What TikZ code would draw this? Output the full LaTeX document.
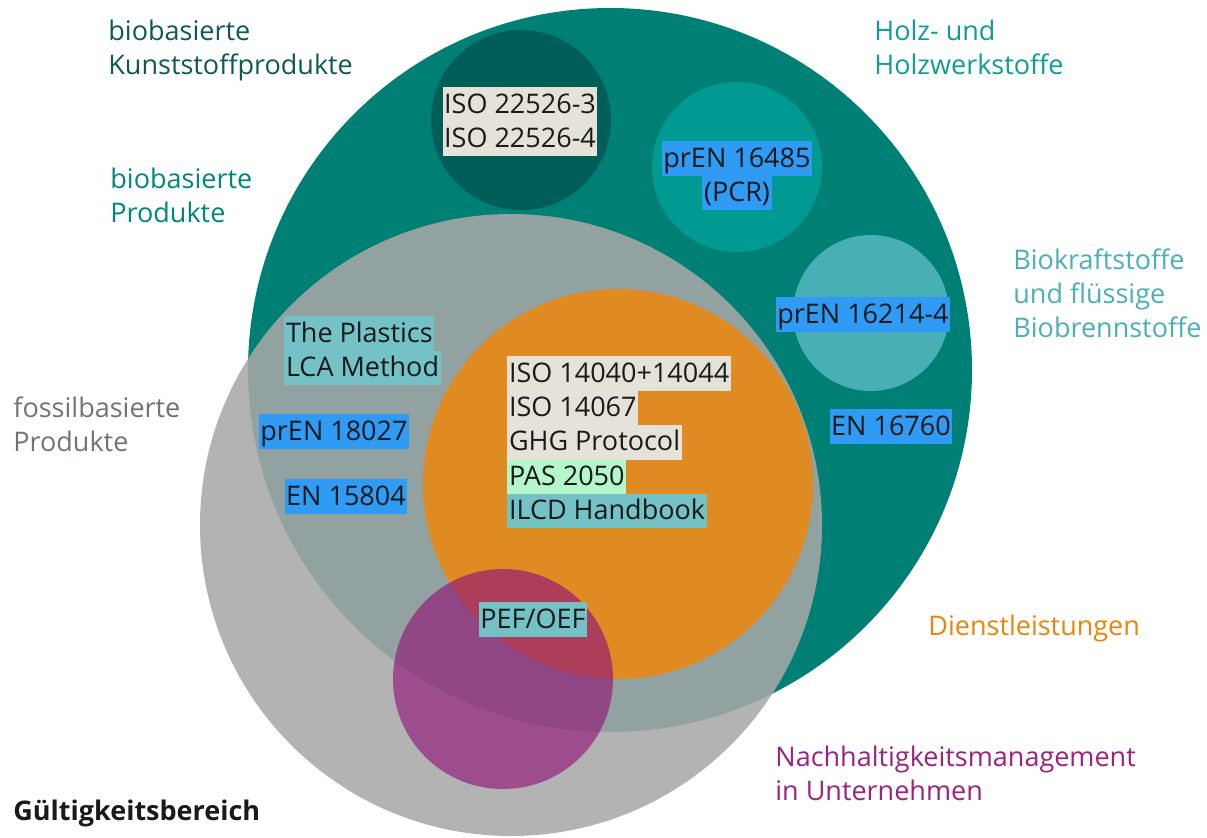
\documentclass[tikz,border=0pt]{standalone}
\usepackage{fontspec}
\setmainfont{Open Sans}
\usepackage{xcolor}
\usetikzlibrary{positioning}

\definecolor{tealbig}{HTML}{007F74}
\definecolor{tealdark}{HTML}{005E58}
\definecolor{tealmid}{HTML}{009A93}
\definecolor{teallight}{HTML}{47AFB5}
\definecolor{fossilgray}{RGB}{168,168,168}
\definecolor{orangeset}{HTML}{E08A22}
\definecolor{purpleset}{RGB}{145,22,120}
\definecolor{boxbeige}{HTML}{E5E3D9}
\definecolor{boxblue}{HTML}{2F9BF5}
\definecolor{boxteal}{HTML}{74C1C6}
\definecolor{boxgreen}{HTML}{B5F7CD}
\definecolor{textdark}{HTML}{1A1A1A}
\definecolor{kunsttext}{HTML}{0E5A52}
\definecolor{holztext}{HTML}{119C93}
\definecolor{biotext}{HTML}{00877B}
\definecolor{krafttext}{HTML}{4AAFB7}
\definecolor{fossiltext}{HTML}{6E7670}
\definecolor{diensttext}{HTML}{E8850F}
\definecolor{mgmttext}{HTML}{9A2380}

\begin{document}
\begin{tikzpicture}[x=0.5pt, y=-0.5pt]
% Define styles
\tikzstyle{set}=[circle, inner sep=0pt]
\tikzstyle{area}=[font=\fontsize{13.5}{17}\selectfont, align=left, anchor=north west, inner sep=0pt]
\tikzstyle{std}=[font=\fontsize{13.5}{17}\selectfont, text=textdark, inner xsep=0.8pt, inner ysep=0pt, text height=12.8pt, text depth=4.4pt]

\useasboundingbox (0,0) rectangle (1207,837);

% Scope circles
\node[set, fill=tealbig, minimum size=362pt] (bio) at (610,370) {};
\node[set, fill=tealdark, minimum size=90pt] (kunst) at (521,120) {};
\node[set, fill=tealmid, minimum size=85pt] (holz) at (737,167) {};
\node[set, fill=teallight, minimum size=78pt] (kraft) at (871,313) {};
\node[set, fill=fossilgray, fill opacity=0.87, minimum size=311pt] (fossil) at (511,525) {};
\node[set, fill=orangeset, minimum size=195pt] (dienst) at (618,484) {};
\node[set, fill=purpleset, fill opacity=0.65, minimum size=110pt] (mgmt) at (503,679) {};

% Scope labels
\node[area, text=kunsttext] (lkunst) at (108,20) {biobasierte\\Kunststoffprodukte};
\node[area, text=holztext] (lholz) at (874,20) {Holz- und\\Holzwerkstoffe};
\node[area, text=biotext] (lbio) at (110,168) {biobasierte\\Produkte};
\node[area, text=krafttext] (lkraft) at (1013,248) {Biokraftstoffe\\und flüssige\\Biobrennstoffe};
\node[area, text=fossiltext] (lfossil) at (13,396) {fossilbasierte\\Produkte};
\node[area, text=diensttext] (ldienst) at (928,615) {Dienstleistungen};
\node[area, text=mgmttext] (lmgmt) at (775,746) {Nachhaltigkeitsmanagement\\in Unternehmen};
\node[area, text=textdark, font=\fontsize{13.5}{17}\selectfont\bfseries] (lscope) at (13,800) {Gültigkeitsbereich};

% Standards in the bio-based scopes
\node[std, fill=boxbeige, anchor=north] (iso3) at (520,87) {ISO 22526-3};
\node[std, fill=boxbeige, below=-0.4pt of iso3] (iso4) {ISO 22526-4};
\node[std, fill=boxblue, anchor=north] (pren16485) at (737,141) {prEN 16485};
\node[std, fill=boxblue, below=-0.4pt of pren16485] (pcr) {(PCR)};
\node[std, fill=boxblue, anchor=north] (pren16214) at (863,297) {prEN 16214-4};
\node[std, fill=boxblue, anchor=north] (en16760) at (891,409) {EN 16760};

% Standards for products in general
\node[std, fill=boxteal, anchor=north west] (plast) at (284,316) {The Plastics};
\node[std, fill=boxteal, anchor=north west, yshift=0.4pt] (lca) at (plast.south west) {LCA Method};
\node[std, fill=boxblue, anchor=north] (pren18027) at (334,414) {prEN 18027};
\node[std, fill=boxblue, anchor=north] (en15804) at (346,479) {EN 15804};

% General LCA standards
\node[std, fill=boxbeige, anchor=north west] (iso14040) at (507,356) {ISO 14040+14044};
\node[std, fill=boxbeige, anchor=north west, yshift=0.4pt] (iso14067) at (iso14040.south west) {ISO 14067};
\node[std, fill=boxbeige, anchor=north west, yshift=0.4pt] (ghg) at (iso14067.south west) {GHG Protocol};
\node[std, fill=boxgreen, anchor=north west, yshift=0.4pt] (pas) at (ghg.south west) {PAS 2050};
\node[std, fill=boxteal, anchor=north west, yshift=0.4pt] (ilcd) at (pas.south west) {ILCD Handbook};

% Footprint methods
\node[std, fill=boxteal, anchor=north] (pef) at (533,602) {PEF/OEF};

\end{tikzpicture}
\end{document}
